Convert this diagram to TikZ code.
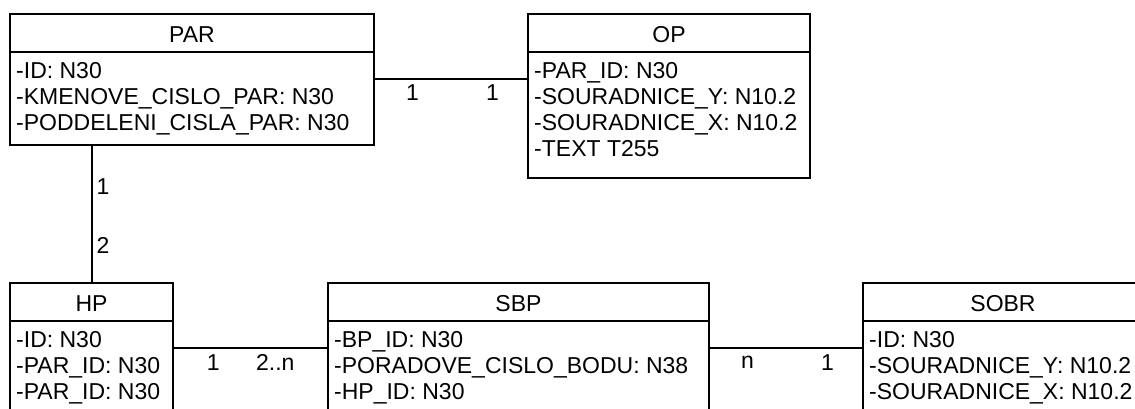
\documentclass[tikz,border=0pt]{standalone}
\usepackage{fontspec}
\setmainfont{Liberation Sans}
\usetikzlibrary{positioning}

\tikzset{
  enthead/.style={draw, line width=1.2pt, outer sep=0pt, anchor=north west, minimum height=38pt, text height=19.5pt, text depth=0pt},
  entbody/.style={draw, line width=1.2pt, outer sep=0pt, anchor=north west},
  attrs/.style={anchor=north west, align=left, inner xsep=6pt, inner ysep=10pt},
  conn/.style={line width=1.2pt},
  card/.style={inner sep=0pt},
}

\begin{document}
\begin{tikzpicture}[x=1pt, y=-1pt, font=\fontsize{23pt}{26pt}\selectfont]
    % Picture frame, the lower boxes run past it
    \useasboundingbox (0,0) rectangle (1135,408);
    \clip (0,0) rectangle (1135,408);

    % PAR
    \node[enthead, minimum width=364pt] (parh) at (10,14) {PAR};
    \node[entbody, minimum width=364pt, minimum height=93pt, below=0pt of parh.south west, anchor=north west] (parb) {};
    \node[attrs] (para) at (parb.north west) {-ID: N30\\-KMENOVE\_CISLO\_PAR: N30\\-PODDELENI\_CISLA\_PAR: N30};

    % OP
    \node[enthead, minimum width=282pt, right=154pt of parh] (oph) {OP};
    \node[entbody, minimum width=282pt, minimum height=126pt, below=0pt of oph.south west, anchor=north west] (opb) {};
    \node[attrs] (opa) at (opb.north west) {-PAR\_ID: N30\\-SOURADNICE\_Y: N10.2\\-SOURADNICE\_X: N10.2\\-TEXT T255};

    % HP
    \node[enthead, minimum width=163pt, below=138pt of parb.south west, anchor=north west] (hph) {HP};
    \node[entbody, minimum width=163pt, minimum height=130pt, below=0pt of hph.south west, anchor=north west] (hpb) {};
    \node[attrs] (hpa) at (hpb.north west) {-ID: N30\\-PAR\_ID: N30\\-PAR\_ID: N30};

    % SBP
    \node[enthead, minimum width=381pt, right=155pt of hph] (sbph) {SBP};
    \node[entbody, minimum width=381pt, minimum height=130pt, below=0pt of sbph.south west, anchor=north west] (sbpb) {};
    \node[attrs] (sbpa) at (sbpb.north west) {-BP\_ID: N30\\-PORADOVE\_CISLO\_BODU: N38\\-HP\_ID: N30};

    % SOBR
    \node[enthead, minimum width=280pt, right=154pt of sbph] (sobrh) {SOBR};
    \node[entbody, minimum width=280pt, minimum height=130pt, below=0pt of sobrh.south west, anchor=north west] (sobrb) {};
    \node[attrs] (sobra) at (sobrb.north west) {-ID: N30\\-SOURADNICE\_Y: N10.2\\-SOURADNICE\_X: N10.2};

    % Relations
    \coordinate (po) at ([yshift=-27pt]parb.north east);
    \draw[conn] (po) -- node[card, pos=.25, yshift=-13.5pt] (po1) {1} node[card, pos=.77, yshift=-13.5pt] (po2) {1} (po -| opb.west);

    \coordinate (ph) at ([xshift=82pt]parb.south west);
    \draw[conn] (ph) -- node[card, pos=.30, xshift=11pt] (ph1) {1} node[card, pos=.725, xshift=11pt] (ph2) {2} (ph |- hph.north);

    \coordinate (hs) at ([yshift=-27pt]hpb.north east);
    \draw[conn] (hs) -- node[card, pos=.26, yshift=-14.5pt] (hs1) {1} node[card, pos=.66, yshift=-14.5pt] (hs2) {2..n} (hs -| sbpb.west);

    \coordinate (ss) at ([yshift=-27pt]sbpb.north east);
    \draw[conn] (ss) -- node[card, pos=.25, yshift=-14.5pt] (ss1) {n} node[card, pos=.77, yshift=-14.5pt] (ss2) {1} (ss -| sobrb.west);
\end{tikzpicture}
\end{document}
